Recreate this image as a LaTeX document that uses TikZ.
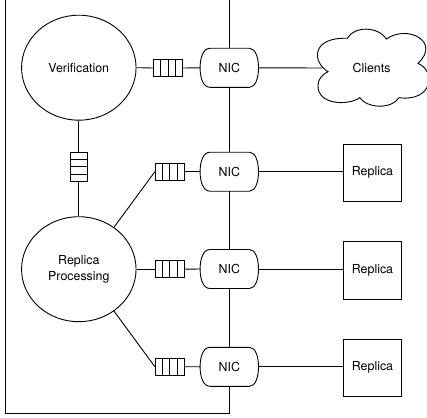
\documentclass[tikz,border=0pt]{standalone}
\usepackage{fontspec}
\setmainfont{TeX Gyre Heros}
\usetikzlibrary{shapes.geometric,calc}
\tikzset{
  every node/.style={font=\fontsize{12.4}{15}\selectfont,inner sep=0pt},
  wire/.style={draw=black,line width=0.9pt},
  proc/.style={ellipse,wire,minimum width=114.5pt,minimum height=105pt,align=center},
  replica/.style={rectangle,wire,minimum width=57.6pt,minimum height=57.5pt},
  qh/.style={rectangle,wire,minimum width=29pt,minimum height=17.4pt,
    path picture={\foreach \i in {-7.25,0,7.25}
      \draw[wire] ([xshift=\i pt]path picture bounding box.north) -- ([xshift=\i pt]path picture bounding box.south);}},
  qv/.style={rectangle,wire,minimum width=17.4pt,minimum height=29pt,
    path picture={\foreach \i in {-7.25,0,7.25}
      \draw[wire] ([yshift=\i pt]path picture bounding box.west) -- ([yshift=\i pt]path picture bounding box.east);}},
  nicbox/.style={rectangle,minimum width=58pt,minimum height=38.6pt},
}
\newcommand{\nicoutline}[1]{%
  \draw[wire] ([xshift=10pt]#1.north west) -- ([xshift=-9pt]#1.north east)
    .. controls ([xshift=-3pt]#1.north east) and ([yshift=10pt]#1.east) .. (#1.east)
    .. controls ([yshift=-10pt]#1.east) and ([xshift=-3pt]#1.south east) .. ([xshift=-9pt]#1.south east)
    -- ([xshift=10pt]#1.south west)
    .. controls ([xshift=3pt]#1.south west) and ([yshift=-10pt]#1.west) .. (#1.west)
    .. controls ([yshift=10pt]#1.west) and ([xshift=3pt]#1.north west) .. ([xshift=10pt]#1.north west) -- cycle;}
\begin{document}
\begin{tikzpicture}[x=1pt,y=-1pt]
\useasboundingbox (0,0) rectangle (427,417);
% coordinates of the frame
\coordinate (ftop) at (229.3,0);
\coordinate (fbr) at (229.3,413.3);
\coordinate (fbl) at (5.6,413.3);
\coordinate (ftl) at (5.6,0);
% processes
\node[proc] (ver) at (78.8,67.7) {Verification};
\node[proc] (rep) at (78.8,269.2) {Replica\\[0.5pt]Processing};
% queues
\node[qh] (q1) at (168,68) {};
\node[qh] (q2) at (169.8,171.7) {};
\node[qh] (q3) at (169.8,269.2) {};
\node[qh] (q4) at (169.8,366.7) {};
\node[qv] (qv1) at (78.8,166.8) {};
% NICs
\node[nicbox] (n1) at (229.3,67.8) {NIC};
\node[nicbox] (n2) at (229.3,171.7) {NIC};
\node[nicbox] (n3) at (229.3,269) {NIC};
\node[nicbox] (n4) at (229.3,366.8) {NIC};
\nicoutline{n1}\nicoutline{n2}\nicoutline{n3}\nicoutline{n4}
% replicas
\node[replica] (r1) at (372.5,172.8) {Replica};
\node[replica] (r2) at (372.5,270.3) {Replica};
\node[replica] (r3) at (372.5,367.7) {Replica};
% cloud
\draw[wire] (328,71.7)
  .. controls (312,62) and (311,37) .. (347.3,38.3)
  .. controls (354,26) and (378,26) .. (386.3,39)
  .. controls (408,24) and (441,42) .. (418,63.3)
  .. controls (437,72) and (432,102) .. (399,97.7)
  .. controls (392,109) and (368,109) .. (359.7,97.7)
  .. controls (348,106) and (317,105) .. (318,85)
  .. controls (318,79) and (323,74) .. (328,71.7) -- cycle;
\coordinate (cl) at (322,68);
\node (cloud) at (371.5,67.5) {Clients};
% connectors
\draw[wire] (ver.east) -- (q1.west);
\draw[wire] (q1.east) -- (n1.west);
\draw[wire] (n1.east) -- (cl);
\draw[wire] (ver.south) -- (qv1.north);
\draw[wire] (qv1.south) -- (rep.north);
\draw[wire] (rep.50) -- (q2.west);
\draw[wire] (q2.east) -- (n2.west);
\draw[wire] (n2.east) -- (n2.east -| r1.west);
\draw[wire] (rep.east) -- (q3.west);
\draw[wire] (q3.east) -- (n3.west);
\draw[wire] (n3.east) -- (n3.east -| r2.west);
\draw[wire] (rep.-50) -- (q4.west);
\draw[wire] (q4.east) -- (n4.west);
\draw[wire] (n4.east) -- (n4.east -| r3.west);
\draw[wire] (ftop) -- (n1.north);
\draw[wire] (n1.south) -- (n2.north);
\draw[wire] (n2.south) -- (n3.north);
\draw[wire] (n3.south) -- (n4.north);
\draw[wire] (n4.south) -- (fbr) -- (fbl) -- (ftl);
\end{tikzpicture}
\end{document}
